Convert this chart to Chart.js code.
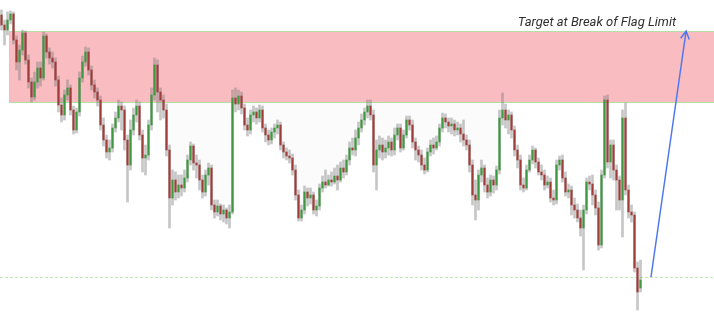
<!DOCTYPE html>
<html>
<head>
<meta charset="utf-8">
<script src="https://cdn.jsdelivr.net/npm/chart.js@4.4.1/dist/chart.umd.min.js"></script>
<style>
  html, body { margin: 0; padding: 0; background: #fff; }
  #wrap { width: 714px; height: 318px; position: relative; }
</style>
</head>
<body>
<div id="wrap"><canvas id="grafico"></canvas></div>
<script>
// candle prices, oldest first
const opens = [
  1985, 1975, 1970, 1980, 1986, 1960, 1938, 1950, 1967, 1940,
  1918, 1903, 1918, 1932, 1922, 1964, 1948, 1942, 1938, 1920,
  1895, 1885, 1905, 1912, 1890, 1870, 1888, 1922, 1938, 1948,
  1930, 1915, 1908, 1900, 1875, 1860, 1848, 1852, 1872, 1882,
  1894, 1890, 1860, 1835, 1870, 1885, 1894, 1865, 1842, 1845,
  1875, 1905, 1935, 1908, 1900, 1890, 1850, 1802, 1820, 1808,
  1815, 1812, 1822, 1840, 1854, 1837, 1835, 1820, 1808, 1825,
  1832, 1795, 1788, 1794, 1786, 1790, 1782, 1788, 1902, 1896,
  1904, 1892, 1875, 1870, 1885, 1888, 1882, 1890, 1872, 1865,
  1860, 1868, 1872, 1875, 1855, 1848, 1844, 1842, 1830, 1805,
  1782, 1790, 1808, 1802, 1805, 1790, 1794, 1812, 1818, 1815,
  1820, 1818, 1824, 1820, 1832, 1828, 1840, 1852, 1850, 1862,
  1872, 1880, 1888, 1894, 1885, 1835, 1850, 1855, 1848, 1852,
  1858, 1850, 1865, 1872, 1852, 1865, 1880, 1875, 1858, 1850,
  1845, 1835, 1830, 1848, 1855, 1852, 1858, 1872, 1882, 1878,
  1874, 1876, 1870, 1872, 1866, 1860, 1855, 1835, 1805, 1800,
  1825, 1832, 1815, 1808, 1820, 1815, 1830, 1882, 1890, 1880,
  1885, 1870, 1850, 1840, 1815, 1812, 1830, 1840, 1850, 1838,
  1828, 1825, 1815, 1818, 1802, 1800, 1835, 1840, 1822, 1808,
  1810, 1795, 1790, 1782, 1772, 1790, 1818, 1816, 1805, 1792,
  1755, 1825, 1900, 1838, 1855, 1830, 1820, 1800, 1882, 1810,
  1788, 1785, 1732, 1712
];
const highs = [
  1990, 1980, 1988, 1989, 1988, 1964, 1955, 1970, 1969, 1945,
  1922, 1928, 1938, 1938, 1968, 1966, 1952, 1948, 1942, 1924,
  1902, 1910, 1920, 1915, 1894, 1892, 1928, 1944, 1953, 1952,
  1934, 1920, 1912, 1904, 1882, 1865, 1860, 1876, 1888, 1900,
  1898, 1894, 1865, 1880, 1892, 1900, 1898, 1870, 1855, 1880,
  1912, 1942, 1940, 1912, 1905, 1896, 1855, 1830, 1828, 1825,
  1825, 1830, 1845, 1858, 1856, 1845, 1840, 1825, 1830, 1837,
  1835, 1800, 1800, 1796, 1795, 1792, 1795, 1910, 1912, 1910,
  1908, 1896, 1882, 1890, 1894, 1892, 1895, 1894, 1876, 1870,
  1872, 1876, 1880, 1878, 1858, 1852, 1850, 1846, 1835, 1810,
  1795, 1814, 1812, 1812, 1808, 1800, 1816, 1824, 1830, 1825,
  1828, 1832, 1835, 1838, 1840, 1845, 1858, 1862, 1870, 1878,
  1886, 1892, 1900, 1900, 1890, 1860, 1864, 1862, 1860, 1864,
  1862, 1872, 1876, 1876, 1870, 1884, 1884, 1880, 1862, 1854,
  1850, 1842, 1852, 1860, 1862, 1864, 1876, 1887, 1886, 1882,
  1882, 1880, 1878, 1876, 1880, 1865, 1860, 1840, 1820, 1830,
  1840, 1835, 1822, 1825, 1824, 1834, 1890, 1907, 1896, 1890,
  1888, 1874, 1855, 1845, 1822, 1835, 1845, 1854, 1852, 1842,
  1835, 1830, 1824, 1822, 1810, 1840, 1844, 1845, 1828, 1816,
  1814, 1802, 1796, 1790, 1795, 1822, 1824, 1825, 1810, 1798,
  1830, 1904, 1905, 1860, 1860, 1835, 1824, 1890, 1897, 1815,
  1795, 1788, 1738, 1740
];
const lows = [
  1970, 1955, 1965, 1976, 1956, 1930, 1920, 1945, 1936, 1912,
  1898, 1900, 1912, 1914, 1920, 1942, 1936, 1932, 1914, 1888,
  1878, 1880, 1900, 1885, 1866, 1867, 1884, 1918, 1934, 1925,
  1910, 1902, 1894, 1870, 1854, 1842, 1840, 1848, 1868, 1878,
  1870, 1850, 1798, 1830, 1865, 1878, 1860, 1828, 1825, 1840,
  1870, 1900, 1888, 1880, 1882, 1844, 1772, 1795, 1800, 1802,
  1804, 1808, 1818, 1835, 1830, 1822, 1810, 1802, 1804, 1815,
  1790, 1782, 1784, 1780, 1778, 1776, 1772, 1786, 1888, 1890,
  1886, 1870, 1864, 1866, 1878, 1876, 1878, 1868, 1858, 1855,
  1856, 1862, 1866, 1850, 1842, 1840, 1837, 1825, 1800, 1779,
  1779, 1786, 1794, 1796, 1786, 1784, 1790, 1808, 1812, 1814,
  1814, 1816, 1810, 1818, 1822, 1825, 1835, 1845, 1844, 1855,
  1868, 1875, 1882, 1880, 1828, 1810, 1842, 1840, 1842, 1845,
  1844, 1845, 1860, 1848, 1850, 1862, 1870, 1852, 1840, 1838,
  1830, 1826, 1828, 1844, 1846, 1850, 1854, 1868, 1872, 1868,
  1866, 1864, 1865, 1858, 1854, 1850, 1828, 1795, 1780, 1790,
  1818, 1808, 1802, 1804, 1807, 1810, 1826, 1875, 1872, 1866,
  1862, 1844, 1832, 1810, 1808, 1810, 1828, 1836, 1832, 1825,
  1820, 1810, 1812, 1798, 1795, 1796, 1830, 1818, 1804, 1802,
  1785, 1782, 1778, 1764, 1730, 1786, 1810, 1795, 1785, 1750,
  1752, 1822, 1832, 1822, 1820, 1790, 1790, 1763, 1805, 1782,
  1778, 1728, 1690, 1708
];
const closes = [
  1975, 1970, 1980, 1986, 1960, 1938, 1950, 1967, 1940, 1918,
  1903, 1918, 1932, 1922, 1964, 1948, 1942, 1938, 1920, 1895,
  1885, 1905, 1912, 1890, 1870, 1888, 1922, 1938, 1948, 1930,
  1915, 1908, 1900, 1875, 1860, 1848, 1852, 1872, 1882, 1894,
  1890, 1860, 1835, 1870, 1885, 1894, 1865, 1842, 1845, 1875,
  1905, 1935, 1908, 1900, 1890, 1850, 1802, 1820, 1808, 1815,
  1812, 1822, 1840, 1854, 1837, 1835, 1820, 1808, 1825, 1832,
  1795, 1788, 1794, 1786, 1790, 1782, 1788, 1902, 1896, 1904,
  1892, 1875, 1870, 1885, 1888, 1882, 1890, 1872, 1865, 1860,
  1868, 1872, 1875, 1855, 1848, 1844, 1842, 1830, 1805, 1782,
  1790, 1808, 1802, 1805, 1790, 1794, 1812, 1818, 1815, 1820,
  1818, 1824, 1820, 1832, 1828, 1840, 1852, 1850, 1862, 1872,
  1880, 1888, 1894, 1885, 1835, 1850, 1855, 1848, 1852, 1858,
  1850, 1865, 1872, 1852, 1865, 1880, 1875, 1858, 1850, 1845,
  1835, 1830, 1848, 1855, 1852, 1858, 1872, 1882, 1878, 1874,
  1876, 1870, 1872, 1866, 1860, 1855, 1835, 1805, 1800, 1825,
  1832, 1815, 1808, 1820, 1815, 1830, 1882, 1890, 1880, 1885,
  1870, 1850, 1840, 1815, 1812, 1830, 1840, 1850, 1838, 1828,
  1825, 1815, 1818, 1802, 1800, 1835, 1840, 1822, 1808, 1810,
  1795, 1790, 1782, 1772, 1790, 1818, 1816, 1805, 1792, 1755,
  1825, 1900, 1838, 1855, 1830, 1820, 1800, 1882, 1810, 1788,
  1785, 1732, 1708, 1720
];

// time slots (the right part is left empty for the target drawing)
const slots = Array.from({ length: 238 }, (_, i) => String(i));

// drawn levels
const flagTop = 1968.5;
const flagBottom = 1897.5;
const flagStartSlot = 2.67;
const breakLevel = 1723;
const targetLevel = 1969;
const arrowFrom = 216.5;
const arrowTo = 228.2;
const shadeFrom = 55, shadeTo = 167;

const UP = '#3d983f';
const DOWN = '#a03d3a';

document.addEventListener('DOMContentLoaded', function() {
    const ctx = document.getElementById('grafico').getContext('2d');

    const drawings = {
        id: 'drawings',
        beforeDatasetsDraw(chart) {
            const { ctx, chartArea: a, scales: { x, y } } = chart;
            ctx.save();
            // flag zone
            const left = x.getPixelForValue(flagStartSlot);
            const top = y.getPixelForValue(flagTop);
            const bottom = y.getPixelForValue(flagBottom);
            ctx.fillStyle = '#f8bcc1';
            ctx.fillRect(left, top, a.right - left + 2, bottom - top);
            ctx.strokeStyle = '#b3e0a6';
            ctx.lineWidth = 1;
            ctx.strokeRect(left, top, a.right - left + 2, bottom - top);
            // break level
            const yb = y.getPixelForValue(breakLevel);
            ctx.strokeStyle = '#bfe9b6';
            ctx.setLineDash([3, 2]);
            ctx.beginPath();
            ctx.moveTo(a.left, yb + 0.5);
            ctx.lineTo(a.right, yb + 0.5);
            ctx.stroke();
            ctx.restore();
        },
        afterDatasetsDraw(chart) {
            const { ctx, scales: { x, y } } = chart;
            ctx.save();
            const x0 = x.getPixelForValue(arrowFrom), y0 = y.getPixelForValue(breakLevel);
            const x1 = x.getPixelForValue(arrowTo), y1 = y.getPixelForValue(targetLevel);
            ctx.strokeStyle = '#4f78ef';
            ctx.lineWidth = 1.5;
            ctx.beginPath();
            ctx.moveTo(x0, y0);
            ctx.lineTo(x1, y1);
            const ang = Math.atan2(y1 - y0, x1 - x0);
            const len = 9;
            ctx.moveTo(x1 - len * Math.cos(ang - 0.5), y1 - len * Math.sin(ang - 0.5));
            ctx.lineTo(x1, y1);
            ctx.lineTo(x1 - len * Math.cos(ang + 0.5), y1 - len * Math.sin(ang + 0.5));
            ctx.stroke();
            // label
            ctx.fillStyle = '#2f2f2f';
            ctx.font = 'italic 13px Roboto';
            ctx.textAlign = 'right';
            ctx.textBaseline = 'alphabetic';
            ctx.fillText('Target at Break of Flag Limit', x1 - 10, y1 - 5);
            ctx.restore();
        }
    };

    new Chart(ctx, {
        type: 'bar',
        data: {
            labels: slots,
            datasets: [
                {
                    type: 'line',
                    data: closes.map((c, i) => (i >= shadeFrom && i <= shadeTo ? c : null)),
                    borderWidth: 0,
                    pointRadius: 0,
                    spanGaps: false,
                    fill: { target: { value: flagBottom }, above: 'rgba(0,0,0,0)', below: 'rgba(0,0,0,0.014)' },
                    order: 3
                },
                {
                    data: lows.map((l, i) => [l, highs[i]]),
                    backgroundColor: 'rgba(120,120,120,0.42)',
                    barThickness: 2,
                    grouped: false,
                    order: 2
                },
                {
                    data: opens.map((o, i) => [o, closes[i]]),
                    backgroundColor: opens.map((o, i) => (closes[i] >= o ? UP : DOWN)),
                    barThickness: 1.5,
                    grouped: false,
                    order: 1
                }
            ]
        },
        options: {
            responsive: true,
            maintainAspectRatio: false,
            animation: false,
            layout: { padding: 0 },
            plugins: {
                legend: { display: false },
                tooltip: { enabled: false }
            },
            scales: {
                x: { display: false, offset: true, grid: { display: false } },
                y: { display: false, min: 1682, max: 2000 }
            }
        },
        plugins: [drawings]
    });
});
</script>
</body>
</html>
